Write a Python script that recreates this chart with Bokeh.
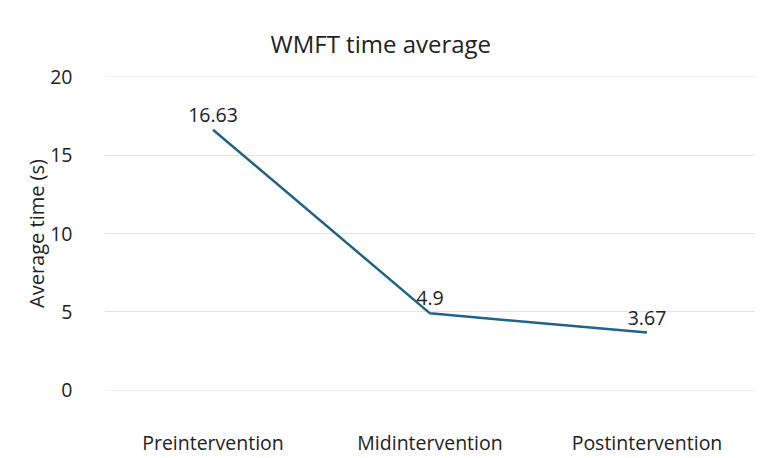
from bokeh.plotting import figure
from bokeh.models import ColumnDataSource, Title
from bokeh.core.properties import value
from bokeh.embed import file_html
from bokeh.resources import INLINE

# WMFT average completion time per phase
phases = ["Preintervention", "Midintervention", "Postintervention"]
avg_time = [16.63, 4.9, 3.67]
value_labels = ["16.63", "4.9", "3.67"]
y_ticks = [0, 5, 10, 15, 20]

FONT = "Open Sans"
LINE_COLOR = "#1f6389"
TEXT_COLOR = "#222222"

src = ColumnDataSource(dict(phase=phases, t=avg_time, lbl=value_labels))

p = figure(
    x_range=phases, y_range=(-0.03, 20.03),
    width=765, height=458,
    output_backend="svg", toolbar_location=None,
    min_border_left=104, min_border_right=10,
    min_border_top=76, min_border_bottom=66,
)
p.x_range.range_padding = 0
p.outline_line_color = None
p.background_fill_color = "white"
p.border_fill_color = "white"

p.line("phase", "t", source=src, line_color=LINE_COLOR, line_width=2.5)
p.text("phase", "t", text="lbl", source=src,
       text_font=value(FONT), text_font_size="19.5px", text_color=TEXT_COLOR,
       text_align="center", text_baseline="bottom", y_offset=-8)

# axes styling
p.yaxis.ticker = y_ticks
p.yaxis.axis_label = "Average time (s)"
p.yaxis.axis_label_text_font = FONT
p.yaxis.axis_label_text_font_style = "normal"
p.yaxis.axis_label_text_font_size = "20px"
p.yaxis.axis_label_text_color = TEXT_COLOR
p.yaxis.axis_label_standoff = -3
p.yaxis.major_label_standoff = 26
for ax in (p.xaxis, p.yaxis):
    ax.axis_line_color = None
    ax.major_tick_line_color = None
    ax.minor_tick_line_color = None
    ax.major_label_text_font = FONT
    ax.major_label_text_font_size = "19.5px"
    ax.major_label_text_color = TEXT_COLOR
p.xaxis.major_label_standoff = 32

p.xgrid.grid_line_color = None
p.ygrid.grid_line_color = "#e3e3e3"
p.ygrid.grid_line_width = 1

p.add_layout(Title(text="WMFT time average", text_font=FONT,
                   text_font_size="24px", text_font_style="normal",
                   text_color=TEXT_COLOR, align="left", offset=166,
                   standoff=34), "above")

open("out.html", "w").write(file_html(p, INLINE))
